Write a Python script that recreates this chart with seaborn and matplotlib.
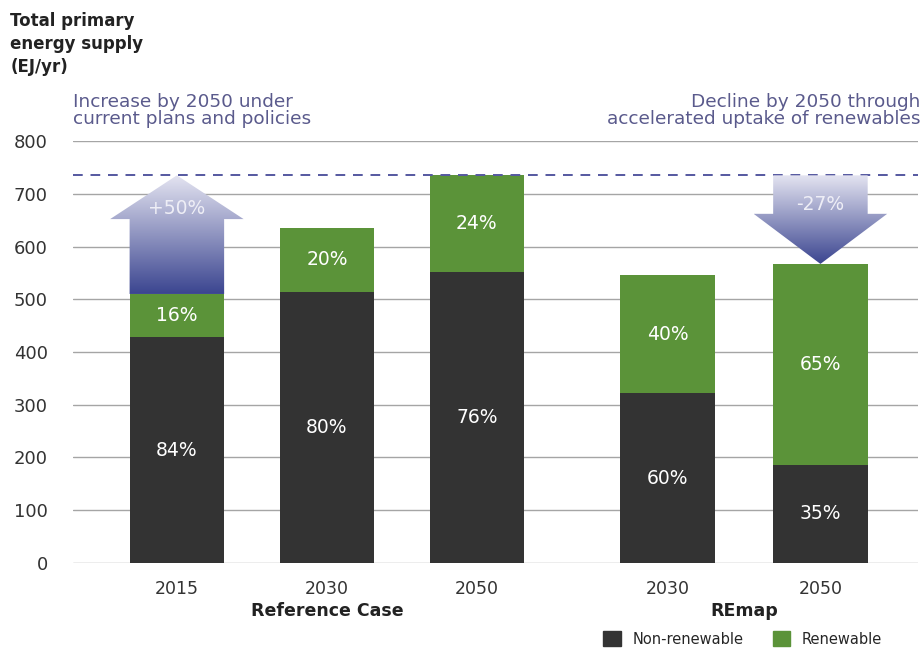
import numpy as np
import pandas as pd
import matplotlib.pyplot as plt
import seaborn as sns
from matplotlib.patches import Polygon, Patch
from matplotlib.colors import LinearSegmentedColormap

# data (EJ/yr)
years = ['2015', '2030', '2050', '2030', '2050']
positions = [0, 1, 2, 3.27, 4.29]
non_renewable = [428, 514, 552, 322, 186]
total = [510, 635, 735, 546, 567]
non_renew_pct = ['84%', '80%', '76%', '60%', '35%']
renew_pct = ['16%', '20%', '24%', '40%', '65%']
groups = ['Reference Case', 'REmap']
arrow_labels = ['+50%', '-27%']
ref_line = 735

dark = '#333333'
green = '#5b9339'
purple_txt = '#5a5a8c'

df = pd.DataFrame({'pos': positions, 'year': years,
                   'non_renewable': non_renewable, 'total': total})

sns.set_style('white')
plt.rcParams['font.family'] = ['DejaVu Sans']

fig = plt.figure(figsize=(9.23, 6.5), dpi=100)
ax = fig.add_axes([0.079, 0.134, 0.916, 0.649])

w = 0.63
sns.barplot(data=df, x='pos', y='total', native_scale=True, color=green,
            saturation=1, width=w, ax=ax, zorder=3, linewidth=0, edgecolor='none')
sns.barplot(data=df, x='pos', y='non_renewable', native_scale=True, color=dark,
            saturation=1, width=w, ax=ax, zorder=3, linewidth=0, edgecolor='none')

# bar labels
for i, p in enumerate(positions):
    ax.text(p, non_renewable[i] / 2, non_renew_pct[i], color='white',
            ha='center', va='center', fontsize=13.5, zorder=5)
    ax.text(p, (non_renewable[i] + total[i]) / 2, renew_pct[i], color='white',
            ha='center', va='center', fontsize=13.5, zorder=5)

# grid
for v in range(0, 801, 100):
    ax.axhline(v, color='#a5a5a5', lw=1, zorder=1)
ax.axhline(ref_line, color='#5558a0', lw=1.4, ls=(0, (5, 4)), zorder=4)

# gradient arrows
cmap = LinearSegmentedColormap.from_list('arr', ['#3b4590', '#e4e4f1'])
grad = np.linspace(0, 1, 256).reshape(-1, 1)
hw = 0.445
head = 83


def gradient_arrow(poly_pts, y0, y1, x0, x1):
    poly = Polygon(poly_pts, closed=True, facecolor='none', edgecolor='none')
    ax.add_patch(poly)
    im = ax.imshow(grad, cmap=cmap, extent=[x0, x1, y0, y1], origin='lower',
                   aspect='auto', zorder=4)
    im.set_clip_path(poly)


# up arrow: 2015 -> 2050 reference
p = positions[0]
base = total[0]
hb = ref_line - head
gradient_arrow([(p - w / 2, base), (p + w / 2, base), (p + w / 2, hb),
                (p + hw, hb), (p, ref_line), (p - hw, hb), (p - w / 2, hb)],
               base, ref_line, p - hw, p + hw)
ax.text(p, 672, arrow_labels[0], color='#eeeef6', ha='center', va='center',
        fontsize=13.5, zorder=6)

# down arrow: reference 2050 -> REmap 2050
p = positions[4]
tip = total[4]
hb = tip + 95
gradient_arrow([(p - w / 2, ref_line), (p + w / 2, ref_line), (p + w / 2, hb),
                (p + hw, hb), (p, tip), (p - hw, hb), (p - w / 2, hb)],
               tip, ref_line, p - hw, p + hw)
ax.text(p, 679, arrow_labels[1], color='#eeeef6', ha='center', va='center',
        fontsize=13.5, zorder=6)

ax.set_xlim(-0.693, 4.943)
ax.set_ylim(0, 800)
ax.set_yticks(range(0, 801, 100))
ax.tick_params(axis='y', labelsize=13, colors='#333333', length=0, pad=18)
ax.set_xticks(positions)
ax.set_xticklabels(years)
ax.tick_params(axis='x', labelsize=12.5, colors='#333333', length=0, pad=12)
ax.set_xlabel('')
ax.set_ylabel('')
sns.despine(ax=ax, left=True, bottom=True)

# group labels
ax.text(1, -0.115, groups[0], transform=ax.get_xaxis_transform(), ha='center',
        va='center', fontsize=12.5, fontweight='bold', color='#222222')
ax.text((positions[3] + positions[4]) / 2, -0.115, groups[1],
        transform=ax.get_xaxis_transform(), ha='center', va='center',
        fontsize=12.5, fontweight='bold', color='#222222')

# titles and notes
fig.text(0.011, 0.982, 'Total primary\nenergy supply\n(EJ/yr)', ha='left',
         va='top', fontsize=12, fontweight='bold', color='#222222',
         linespacing=1.35)
fig.text(0.079, 0.83, 'Increase by 2050 under\ncurrent plans and policies',
         ha='left', va='center', fontsize=13.3, color=purple_txt, linespacing=0.9)
fig.text(0.997, 0.83, 'Decline by 2050 through\naccelerated uptake of renewables',
         ha='right', va='center', fontsize=13.3, color=purple_txt, linespacing=0.9)

handles = [Patch(color=dark, label='Non-renewable'),
           Patch(color=green, label='Renewable')]
fig.legend(handles=handles, loc='lower right', bbox_to_anchor=(0.97, -0.015),
           ncol=2, frameon=False, fontsize=10.5, handlelength=1.2,
           handleheight=1.2, columnspacing=2.0)

plt.savefig('out.png', dpi=100)
